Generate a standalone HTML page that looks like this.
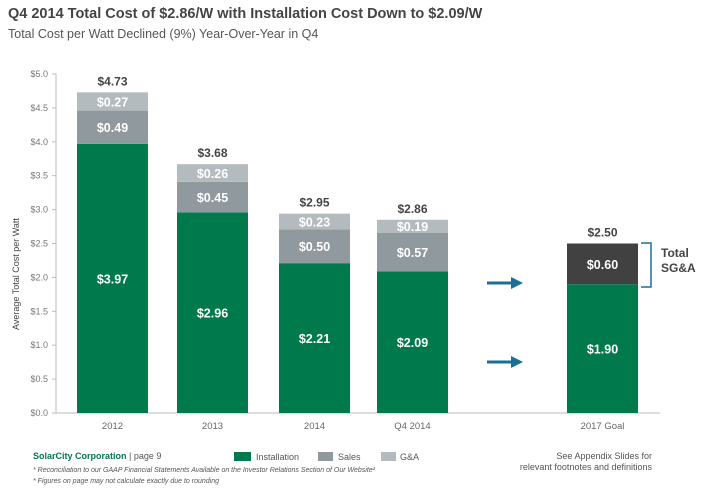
<!DOCTYPE html>
<html><head><meta charset="utf-8"><style>
body{margin:0;width:709px;height:497px;background:#fff;font-family:"Liberation Sans",sans-serif;overflow:hidden}
</style></head><body>
<svg width="709" height="497" xmlns="http://www.w3.org/2000/svg" font-family="Liberation Sans, sans-serif">
<text x="8" y="18" font-size="14.5" font-weight="bold" fill="#444">Q4 2014 Total Cost of $2.86/W with Installation Cost Down to $2.09/W</text>
<text x="8" y="38" font-size="12.5" fill="#555">Total Cost per Watt Declined (9%) Year-Over-Year in Q4</text>
<text transform="translate(19,330) rotate(-90)" font-size="9" fill="#444">Average Total Cost per Watt</text>
<g id="axis"></g><g id="bars"></g>
<g fill="#1b6f96">
<rect x="487" y="281.5" width="26" height="3"/><polygon points="511,277 523,283 511,289"/>
<rect x="487" y="360.5" width="26" height="3"/><polygon points="511,356 523,362 511,368"/>
</g>
<path d="M641,243 H651 V287 H641" fill="none" stroke="#1b6f96" stroke-width="1.5"/>
<text x="661" y="257" font-size="12" font-weight="bold" fill="#444">Total</text>
<text x="661" y="272" font-size="12" font-weight="bold" fill="#444">SG&amp;A</text>
<text x="33" y="459" font-size="9" font-weight="bold" fill="#007a4d">SolarCity Corporation <tspan font-weight="normal" fill="#555">| page 9</tspan></text>
<g font-size="9" fill="#555">
<rect x="234" y="452" width="17" height="9" fill="#007a4d"/><text x="256" y="460">Installation</text>
<rect x="318" y="452" width="15" height="9" fill="#8f999e"/><text x="338" y="460">Sales</text>
<rect x="381" y="452" width="15" height="9" fill="#b4bbbe"/><text x="400" y="460">G&amp;A</text>
</g>
<text x="652" y="459" font-size="9" fill="#555" text-anchor="end">See Appendix Slides for</text>
<text x="652" y="470" font-size="9" fill="#555" text-anchor="end">relevant footnotes and definitions</text>
<text x="33" y="472" font-size="7" font-style="italic" fill="#555">* Reconciliation to our GAAP Financial Statements Available on the Investor Relations Section of Our Website²</text>
<text x="33" y="483" font-size="7" font-style="italic" fill="#555">* Figures on page may not calculate exactly due to rounding</text>
</svg>
<script>
const categories=["2012","2013","2014","Q4 2014","2017 Goal"];
const installation=[3.97,2.96,2.21,2.09,1.90];
const sales=[0.49,0.45,0.50,0.57,0.60];
const ga=[0.27,0.26,0.23,0.19,0];
const totals=[4.73,3.68,2.95,2.86,2.50];
const ticks=[0,0.5,1,1.5,2,2.5,3,3.5,4,4.5,5];
const NS="http://www.w3.org/2000/svg";
const y0=413,ppu=67.8;
const y=v=>y0-v*ppu;
const barX=[77,177,279,377,567],bw=71;
function mk(t,a,p){const e=document.createElementNS(NS,t);for(const k in a)e.setAttribute(k,a[k]);p.appendChild(e);return e;}
const ax=document.getElementById('axis');
const al=mk('line',{x1:56,x2:56,y1:y(5),y2:y0,stroke:'#bbb'},ax);


mk('line',{x1:52,x2:660,y1:y0,y2:y0,stroke:'#bbb'},ax);
ticks.forEach(t=>{mk('line',{x1:52,x2:56,y1:y(t),y2:y(t),stroke:'#bbb'},ax);
const tx=mk('text',{x:48,y:y(t)+3,'font-size':9,fill:'#777','text-anchor':'end'},ax);tx.textContent='$'+t.toFixed(1);

});
const g=document.getElementById('bars');
categories.forEach((c,i)=>{
 const x=barX[i];let base=0;
 const segs=[[installation[i],'#007a4d','installation'],[sales[i],i==4?'#414141':'#8f999e','sales'],[ga[i],'#b4bbbe','ga']];
 segs.forEach(([v,col,n])=>{if(!v)return;
  const r=mk('rect',{x:x,y:y(base+v),width:bw,height:v*ppu,fill:col},g);
  
  
  const t=mk('text',{x:x+bw/2,y:y(base+v/2)+5,'font-size':12.5,'font-weight':'bold',fill:'#fff','text-anchor':'middle'},g);
  t.textContent='$'+v.toFixed(2);base+=v;});
 const tt=mk('text',{x:x+bw/2,y:y(base)-7,'font-size':12,'font-weight':'bold',fill:'#444','text-anchor':'middle'},g);
 tt.textContent='$'+totals[i].toFixed(2);
 
 
 const cl=mk('text',{x:x+bw/2,y:429,'font-size':9.5,fill:'#666','text-anchor':'middle'},g);
 cl.textContent=c;
 
 
});
</script>
</body></html>
